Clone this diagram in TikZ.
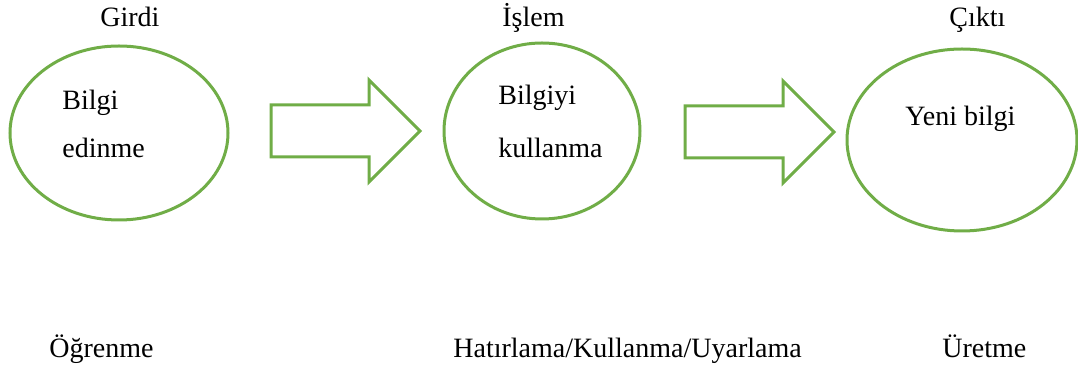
\documentclass[tikz,border=0pt]{standalone}
\usepackage{fontspec}
\setmainfont{Liberation Serif}
\usetikzlibrary{shapes.geometric}

\definecolor{officegreen}{HTML}{70AD47}

\begin{document}
\begin{tikzpicture}[x=0.5pt, y=-0.5pt]
    % Size of the block arrows (shaft half height, head half height, head length, total length)
    \def\s{26}
    \def\h{51}
    \def\l{51}
    \def\L{149}
    % Style definitions
    \tikzset{
        % ellipses
        stage/.style={draw=officegreen, line width=1.5pt, ellipse, inner sep=0pt},
        % plain texts
        word/.style={inner sep=0pt, anchor=base west, font=\fontsize{14}{16}\selectfont},
        % block arrow, drawn from the middle of its left side
        pics/block arrow/.style={code={%
            \draw[officegreen, line width=1.5pt, line join=miter]
                (0,-\s) -- (\L-\l,-\s) -- (\L-\l,-\h) -- (\L,0)
                -- (\L-\l,\h) -- (\L-\l,\s) -- (0,\s) -- cycle;
        }}
    }
    \useasboundingbox (0,0) rectangle (1078,367);

    % Headings
    \node[word] (T1) at (100,27) {Girdi};
    \node[word] (T2) at (502,27) {İşlem};
    \node[word] (T3) at (949,27) {Çıktı};

    % Ellipses
    \node[stage, minimum width=109pt, minimum height=87pt] (E1) at (119,133) {};
    \node[stage, minimum width=98pt, minimum height=88pt] (E2) at (542,131) {};
    \node[stage, minimum width=115pt, minimum height=91pt] (E3) at (962,140) {};

    % Texts in the ellipses
    \node[word] (B1) at (62,110) {Bilgi};
    \node[word] (B2) at (62,158) {edinme};
    \node[word] (C1) at (498,105) {Bilgiyi};
    \node[word] (C2) at (498,158) {kullanma};
    \node[word] (D1) at (905,126) {Yeni bilgi};

    % Block arrows
    \pic (A1) at (271,131) {block arrow};
    \pic (A2) at (685,132) {block arrow};

    % Bottom row
    \node[word] (U1) at (49,358) {Öğrenme};
    \node[word] (U2) at (453,358) {Hatırlama/Kullanma/Uyarlama};
    \node[word] (U3) at (942,358) {Üretme};
\end{tikzpicture}
\end{document}
